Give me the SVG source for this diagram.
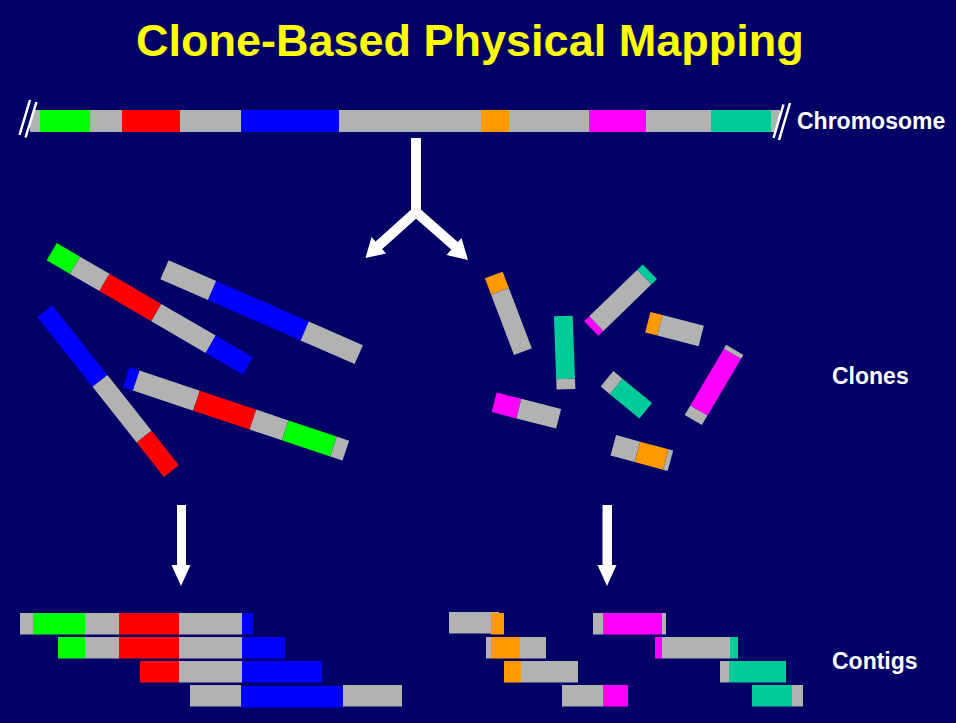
<svg xmlns="http://www.w3.org/2000/svg" width="956" height="723" viewBox="0 0 956 723">
  <style>
    .bg { fill: #000066; }
    .g { fill: #B2B2B2; }
    .gr { fill: #00FF00; }
    .rd { fill: #FF0000; }
    .bl { fill: #0000FF; }
    .or { fill: #FF9900; }
    .mg { fill: #FF00FF; }
    .tl { fill: #00CC99; }
    .title { font-family: "Liberation Sans", Arial, sans-serif; font-weight: bold; font-size: 45px; fill: #FFFF00; }
    .label { font-family: "Liberation Sans", Arial, sans-serif; font-weight: bold; font-size: 23px; fill: #FFFFFF; }
    .arrow { fill: none; stroke: #FFFFFF; stroke-width: 10; }
    .head { fill: #FFFFFF; }
    .slash { stroke: #FFFFFF; stroke-width: 2.5; }
  </style>

  <rect class="bg" x="0" y="0" width="956" height="723"/>

  <text class="title" x="136" y="56">Clone-Based Physical Mapping</text>

  <!-- chromosome bar -->
  <g id="chromosome">
    <rect class="g" x="30" y="110" width="750" height="22"/>
    <rect class="gr" x="40" y="110" width="50" height="22"/>
    <rect class="rd" x="122" y="110" width="58" height="22"/>
    <rect class="bl" x="241" y="110" width="98" height="22"/>
    <rect class="or" x="481" y="110" width="28" height="22"/>
    <rect class="mg" x="589" y="110" width="57" height="22"/>
    <rect class="tl" x="711" y="110" width="60" height="22"/>
    <!-- break marks -->
    <polygon class="bg" points="19,135 30,100 37,102 25,138"/>
    <line class="slash" x1="19.5" y1="135" x2="30" y2="100"/>
    <line class="slash" x1="25.5" y1="137.5" x2="36.5" y2="102"/>
    <polygon class="bg" points="774,138 783,105 790,103 779,140"/>
    <line class="slash" x1="773.5" y1="138" x2="783.5" y2="104.5"/>
    <line class="slash" x1="779" y1="140" x2="790" y2="103"/>
  </g>
  <text class="label" x="797" y="129">Chromosome</text>

  <!-- connectors -->
  <g id="connectors">
    <path class="arrow" d="M416,138 V214"/>
    <path class="arrow" d="M377,247 L416,212 L457,248"/>
    <polygon class="head" points="365.5,258 371.5,237 386,253.5"/>
    <polygon class="head" points="468,260 446.5,255 461.5,238"/>
    <rect class="head" x="177" y="505" width="9" height="61"/>
    <polygon class="head" points="171.5,565 190.5,565 181,586"/>
    <rect class="head" x="602.5" y="505" width="9.5" height="61"/>
    <polygon class="head" points="597.5,565 616.5,565 607,586"/>
  </g>

  <!-- clones, each drawn along its own axis from its left end centre -->
  <g id="clone-a" transform="translate(51.7,251.7) rotate(30.2)">
    <rect class="gr" x="0" y="-10" width="27" height="20"/>
    <rect class="g" x="27" y="-10" width="34" height="20"/>
    <rect class="rd" x="61" y="-10" width="60" height="20"/>
    <rect class="g" x="121" y="-10" width="63" height="20"/>
    <rect class="bl" x="184" y="-10" width="43" height="20"/>
  </g>
  <g id="clone-b" transform="translate(164.5,269.7) rotate(23.6)">
    <rect class="g" x="0" y="-10.3" width="52" height="20.6"/>
    <rect class="bl" x="52" y="-10.3" width="101" height="20.6"/>
    <rect class="g" x="153" y="-10.3" width="59" height="20.6"/>
  </g>
  <g id="clone-c" transform="translate(44.7,311.2) rotate(51.6)">
    <rect class="bl" x="0" y="-9.5" width="89" height="19"/>
    <rect class="g" x="89" y="-9.5" width="71" height="19"/>
    <rect class="rd" x="160" y="-9.5" width="44" height="19"/>
  </g>
  <g id="clone-d" transform="translate(126.3,377.2) rotate(18.5)">
    <rect class="bl" x="0" y="-10.5" width="10.5" height="21"/>
    <rect class="g" x="10.5" y="-10.5" width="63.5" height="21"/>
    <rect class="rd" x="74" y="-10.5" width="59.5" height="21"/>
    <rect class="g" x="133.5" y="-10.5" width="34" height="21"/>
    <rect class="gr" x="167.5" y="-10.5" width="51" height="21"/>
    <rect class="g" x="218.5" y="-10.5" width="13" height="21"/>
  </g>

  <g id="clone-r1" transform="translate(493.8,275) rotate(69.2)">
    <rect class="or" x="0" y="-9.5" width="17.5" height="19"/>
    <rect class="g" x="17.5" y="-9.5" width="64.5" height="19"/>
  </g>
  <g id="clone-r2" transform="translate(591.3,328.5) rotate(-44.1)">
    <rect class="mg" x="0" y="-10.2" width="7" height="20.4"/>
    <rect class="g" x="7" y="-10.2" width="67" height="20.4"/>
    <rect class="tl" x="74" y="-10.2" width="7.5" height="20.4"/>
  </g>
  <g id="clone-r3" transform="translate(563.3,316) rotate(87.9)">
    <rect class="tl" x="0" y="-9.4" width="63" height="18.8"/>
    <rect class="g" x="63" y="-9.4" width="10.3" height="18.8"/>
  </g>
  <g id="clone-r4" transform="translate(647.8,322.2) rotate(14.5)">
    <rect class="or" x="0" y="-10.6" width="12.6" height="21.2"/>
    <rect class="g" x="12.6" y="-10.6" width="42.6" height="21.2"/>
  </g>
  <g id="clone-r5" transform="translate(693.3,420) rotate(-59.4)">
    <rect class="g" x="0" y="-10" width="11" height="20"/>
    <rect class="mg" x="11" y="-10" width="66" height="20"/>
    <rect class="g" x="77" y="-10" width="4.5" height="20"/>
  </g>
  <g id="clone-r6" transform="translate(607,378.8) rotate(39.6)">
    <rect class="g" x="0" y="-10" width="12" height="20"/>
    <rect class="tl" x="12" y="-10" width="38.2" height="20"/>
  </g>
  <g id="clone-r7" transform="translate(494.2,402.3) rotate(14.3)">
    <rect class="mg" x="0" y="-10.1" width="25.5" height="20.2"/>
    <rect class="g" x="25.5" y="-10.1" width="41" height="20.2"/>
  </g>
  <g id="clone-r8" transform="translate(613.3,445.3) rotate(15.2)">
    <rect class="g" x="0" y="-10.6" width="25" height="21.2"/>
    <rect class="or" x="25" y="-10.6" width="29.4" height="21.2"/>
    <rect class="g" x="54.4" y="-10.6" width="4.8" height="21.2"/>
  </g>

  <text class="label" x="832" y="383.5">Clones</text>

  <!-- left contig -->
  <g id="contig-left">
    <rect class="g" x="20" y="613" width="13" height="21.5"/>
    <rect class="gr" x="33" y="613" width="52" height="21.5"/>
    <rect class="g" x="85" y="613" width="34" height="21.5"/>
    <rect class="rd" x="119" y="613" width="60" height="21.5"/>
    <rect class="g" x="179" y="613" width="63" height="21.5"/>
    <rect class="bl" x="242" y="613" width="11" height="21.5"/>

    <rect class="gr" x="58" y="637" width="27" height="21.5"/>
    <rect class="g" x="85" y="637" width="34" height="21.5"/>
    <rect class="rd" x="119" y="637" width="60" height="21.5"/>
    <rect class="g" x="179" y="637" width="63" height="21.5"/>
    <rect class="bl" x="242" y="637" width="43" height="21.5"/>

    <rect class="rd" x="140" y="661" width="39" height="21.5"/>
    <rect class="g" x="179" y="661" width="63" height="21.5"/>
    <rect class="bl" x="242" y="661" width="80" height="21.5"/>

    <rect class="g" x="190" y="685" width="51" height="21.5"/>
    <rect class="bl" x="241" y="686" width="102" height="21.5"/>
    <rect class="g" x="343" y="685" width="59" height="21.5"/>
  </g>

  <!-- right contigs -->
  <g id="contig-right-a">
    <rect class="g" x="449" y="612" width="50" height="21.5"/>
    <rect class="or" x="491" y="613" width="13" height="21.5"/>

    <rect class="g" x="486" y="637" width="5" height="21.5"/>
    <rect class="or" x="491" y="637" width="29" height="21.5"/>
    <rect class="g" x="520" y="637" width="26" height="21.5"/>

    <rect class="or" x="504" y="661" width="17" height="21.5"/>
    <rect class="g" x="521" y="661" width="57" height="21.5"/>

    <rect class="g" x="562" y="685" width="41" height="21.5"/>
    <rect class="mg" x="603" y="685" width="25" height="21.5"/>
  </g>
  <g id="contig-right-b">
    <rect class="g" x="593" y="613" width="10" height="21.5"/>
    <rect class="mg" x="603" y="613" width="59" height="21.5"/>
    <rect class="g" x="662" y="613" width="4" height="21.5"/>

    <rect class="mg" x="655" y="637" width="7" height="21.5"/>
    <rect class="g" x="662" y="637" width="68" height="21.5"/>
    <rect class="tl" x="730" y="637" width="8" height="21.5"/>

    <rect class="g" x="720" y="661" width="9" height="21.5"/>
    <rect class="tl" x="729" y="661" width="57" height="21.5"/>

    <rect class="tl" x="752" y="685" width="40" height="21.5"/>
    <rect class="g" x="792" y="685" width="11" height="21.5"/>
  </g>

  <text class="label" x="832" y="668.5">Contigs</text>
</svg>
